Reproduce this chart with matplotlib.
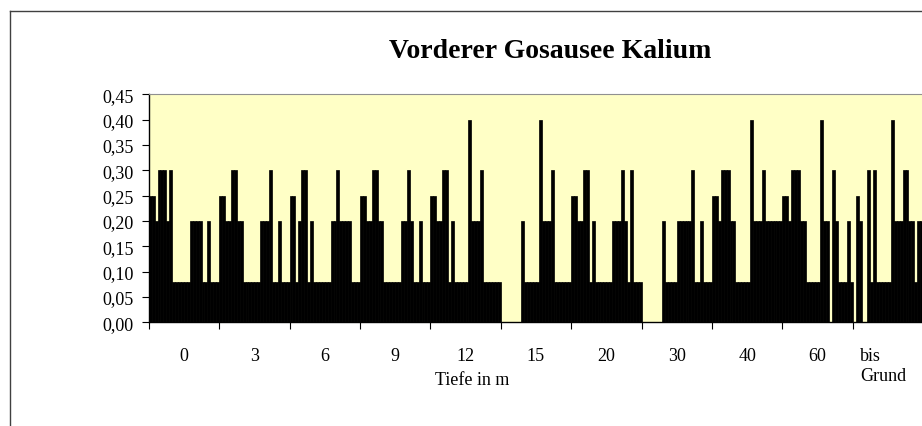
import matplotlib
matplotlib.use("Agg")
import matplotlib.pyplot as plt
import matplotlib.transforms as mtransforms
import numpy as np
from matplotlib.lines import Line2D

plt.rcParams["font.family"] = ["Liberation Serif", "DejaVu Serif"]

# depth categories and 24 samples per depth (nan = no sample)
depths = ["0", "3", "6", "9", "12", "15", "20", "30", "40", "60", "bis\nGrund"]
b = 0.08
n = np.nan
k_0 = [.25, .25, .2, .3, .3, .3, .2, .3, b, b, b, b, b, b, .2, .2, .2, .2, b, b, .2, b, b, b]
k_3 = [.25, .25, .2, .2, .3, .3, .2, .2, b, b, b, b, b, b, .2, .2, .2, .3, b, b, .2, b, b, b]
k_6 = [.25, .25, b, .2, .3, .3, b, .2, b, b, b, b, b, b, .2, .2, .3, .2, .2, .2, .2, b, b, b]
k_9 = [.25, .25, .2, .2, .3, .3, .2, .2, b, b, b, b, b, b, .2, .2, .3, .2, b, b, .2, b, b, b]
k_12 = [.25, .25, .2, .2, .3, .3, b, .2, b, b, b, b, b, .4, .2, .2, .2, .3, b, b, b, b, b, b]
k_15 = [n, n, n, n, n, n, n, .2, b, b, b, b, b, .4, .2, .2, .2, .3, b, b, b, b, b, b]
k_20 = [.25, .25, .2, .2, .3, .3, b, .2, b, b, b, b, b, b, .2, .2, .2, .3, .2, b, .3, b, b, b]
k_30 = [n, n, n, n, n, n, n, .2, b, b, b, b, .2, .2, .2, .2, .2, .3, b, b, .2, b, b, b]
k_40 = [.25, .25, .2, .3, .3, .3, .2, .2, b, b, b, b, b, .4, .2, .2, .2, .3, .2, .2, .2, .2, .2, .2]
k_60 = [.25, .25, .2, .3, .3, .3, .2, .2, b, b, b, b, b, .4, .2, .2, n, .3, .2, b, b, b, .2, b]
k_grund = [n, .25, .2, n, n, .3, b, .3, b, b, b, b, b, .4, .2, .2, .2, .3, .3, .2, .2, b, .2, .2]
kalium = [k_0, k_3, k_6, k_9, k_12, k_15, k_20, k_30, k_40, k_60, k_grund]

W, H = 922, 427
fig = plt.figure(figsize=(W / 100, H / 100), dpi=100)

# plot area in pixels of the reference
left, right, top, bottom = 148.7, 923.1, 95.3, 323.3
ax = fig.add_axes([left / W, 1 - bottom / H, (right - left) / W, (bottom - top) / H])
ax.set_facecolor("#FFFFC6")

n_ser = len(kalium[0])
w = 1.0 / n_ser
for i, vals in enumerate(kalium):
    x = i + (np.arange(n_ser) + 0.5) * w
    ax.bar(x, vals, width=w, color="black", edgecolor="black", linewidth=0.5, zorder=3)

ax.set_xlim(0, len(depths))
ax.set_ylim(0, 0.45)
ax.set_yticks(np.arange(0, 0.451, 0.05))
ax.set_yticklabels([f"{v:.2f}".replace(".", ",") for v in np.arange(0, 0.451, 0.05)])

ax.set_xticks(np.arange(len(depths)) + 0.5)
ax.set_xticklabels(depths, multialignment="left")
ax.set_xticks(np.arange(len(depths) + 1), minor=True)
ax.tick_params(axis="x", which="major", length=0, pad=18, labelsize=13)
ax.tick_params(axis="x", which="minor", length=5, width=0.8, direction="out")
ax.tick_params(axis="y", length=5, width=0.8, direction="out", pad=6, labelsize=13)

# nudge the wrapped last label a little to the left
last = ax.get_xticklabels()[-1]
last.set_transform(last.get_transform() + mtransforms.ScaledTranslation(-5 / 100, 0, fig.dpi_scale_trans))

for s in ["left", "bottom"]:
    ax.spines[s].set_color("black")
    ax.spines[s].set_linewidth(1)
ax.spines["top"].set_color("#909090")
ax.spines["right"].set_color("#909090")

fig.text(550 / W, 1 - 52 / H, "Vorderer Gosausee Kalium", ha="center", va="center",
         fontsize=20, fontweight="bold")
fig.text(472 / W, 1 - 381 / H, "Tiefe in m", ha="center", va="center", fontsize=13)

# outer chart frame
fig.add_artist(Line2D([10 / W, 1.0], [1 - 12 / H] * 2, color="#404040", lw=1))
fig.add_artist(Line2D([10 / W] * 2, [0, 1 - 12 / H], color="#404040", lw=1))

fig.savefig("out.png", dpi=100)
